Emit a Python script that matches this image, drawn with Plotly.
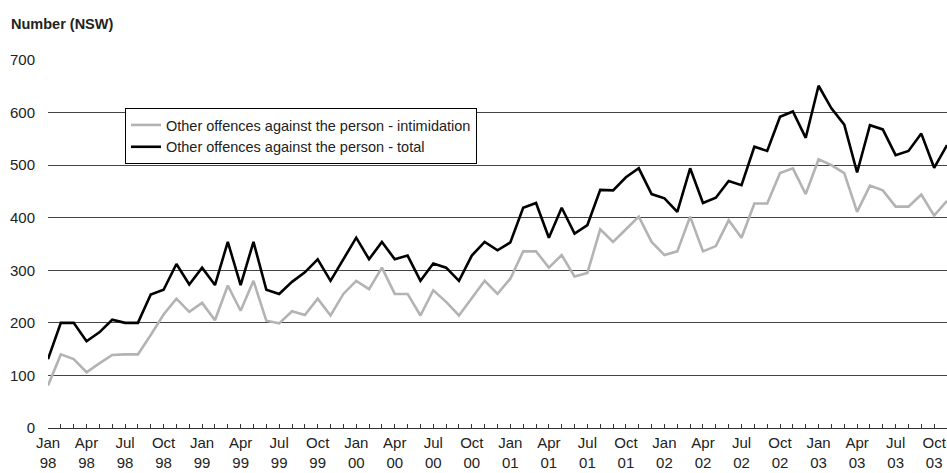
import plotly.graph_objects as go

months = ["Jan", "Feb", "Mar", "Apr", "May", "Jun", "Jul", "Aug", "Sep", "Oct", "Nov", "Dec"]
years = ["98", "99", "00", "01", "02", "03"]
periods = [f"{m} {y}" for y in years for m in months][:71]  # Jan 98 .. Nov 03

total = [131, 200, 200, 165, 182, 206, 200, 200, 254, 263, 312, 273,
         305, 272, 354, 272, 354, 263, 255, 278, 296, 321, 280, 321,
         362, 321, 354, 321, 328, 280, 313, 305, 280, 328, 354, 338,
         353, 419, 428, 362, 419, 370, 386, 453, 452, 477, 494, 445,
         437, 411, 494, 428, 438, 470, 462, 535, 527, 592, 602, 552,
         651, 608, 577, 486, 576, 568, 519, 527, 560, 495, 538]

intimidation = [81, 140, 131, 106, 123, 139, 140, 140, 177, 216, 246, 221,
                238, 205, 271, 223, 280, 204, 199, 222, 215, 246, 214, 255,
                280, 264, 305, 255, 255, 214, 262, 240, 214, 246, 280, 255,
                284, 336, 336, 305, 329, 288, 295, 378, 354, 378, 402, 354,
                329, 336, 402, 336, 346, 395, 362, 427, 427, 485, 494, 445,
                511, 500, 485, 411, 461, 452, 421, 421, 444, 404, 432]

x = list(range(len(periods)))
tick_idx = list(range(0, len(periods), 3))
tick_text = [periods[i].replace(" ", "<br>") for i in tick_idx]

FONT = "Liberation Sans Narrow, Arial Narrow, Liberation Sans, Arial, sans-serif"

fig = go.Figure()
fig.add_trace(go.Scatter(x=x, y=intimidation, mode="lines",
                         name="Other offences against the person - intimidation",
                         line=dict(color="#b3b3b3", width=2.6)))
fig.add_trace(go.Scatter(x=x, y=total, mode="lines",
                         name="Other offences against the person - total",
                         line=dict(color="#000000", width=2.6)))

fig.update_layout(
    width=947, height=473,
    margin=dict(l=48, r=0, t=60, b=45),
    paper_bgcolor="white", plot_bgcolor="white",
    font=dict(family=FONT, size=15, color="#222"),
    showlegend=True,
    legend=dict(x=(125 - 48) / 899, y=(428 - 108) / 368, xanchor="left", yanchor="top",
                bgcolor="white", bordercolor="#000", borderwidth=1,
                font=dict(size=14.5, color="#222"), tracegroupgap=0,
                itemwidth=30),
    xaxis=dict(range=[0, 70], tickmode="array", tickvals=tick_idx, ticktext=tick_text,
               showgrid=False, zeroline=False, showline=True, linecolor="#333", linewidth=1,
               ticks="inside", ticklen=4, tickcolor="#333",
               minor=dict(dtick=1, tick0=0, ticks="inside", ticklen=4, tickcolor="#333", showgrid=False),
               tickfont=dict(size=15), ticklabelstandoff=1),
    yaxis=dict(range=[0, 700], dtick=100, showgrid=True, gridcolor="#444", gridwidth=1,
               zeroline=False, showline=False, ticks="", tickfont=dict(size=15),
               ticklabelstandoff=12),
    annotations=[dict(text="<b>Number (NSW)</b>", xref="paper", yref="paper",
                      x=(9 - 48) / 899, y=(428 - 24) / 368, xanchor="left", yanchor="middle",
                      showarrow=False, font=dict(size=14.5, color="#222"))],
)

fig.write_html("out.html", config={"displayModeBar": False},
               post_script="document.body.style.margin='0';document.body.style.padding='0';")
